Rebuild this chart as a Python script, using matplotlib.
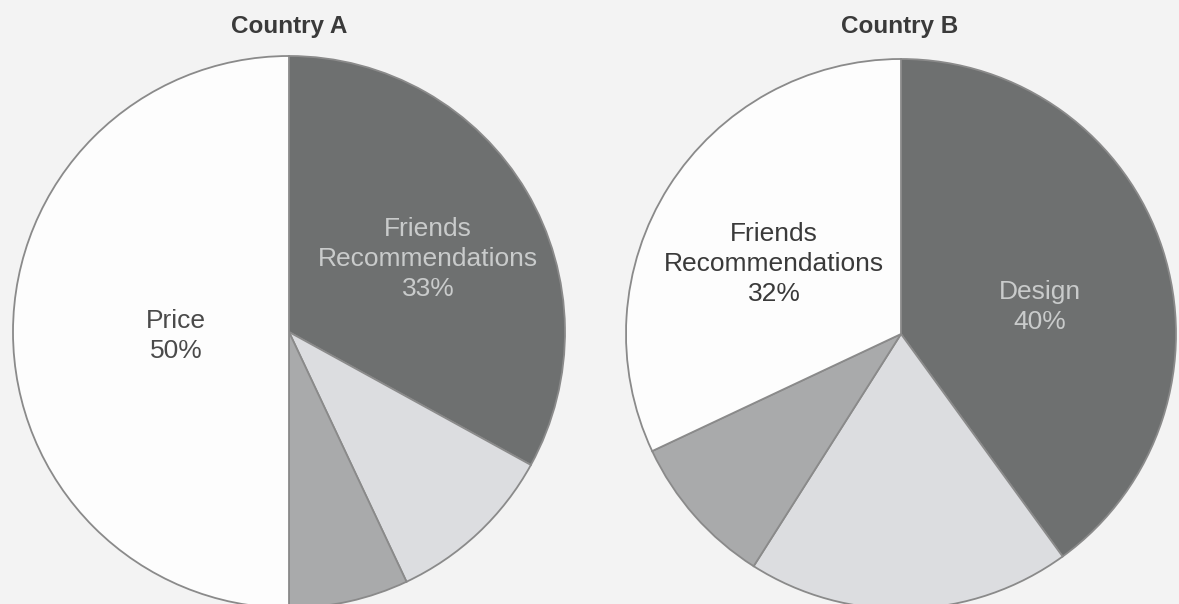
import matplotlib.pyplot as plt

plt.rcParams["font.family"] = ["Liberation Sans", "DejaVu Sans"]

# slice order: clockwise from 12 o'clock
slices_a = ["Friends Recommendations", "Other 1", "Other 2", "Price"]
values_a = [33, 10, 7, 50]
slices_b = ["Design", "Other 1", "Other 2", "Friends Recommendations"]
values_b = [40, 19, 9, 32]
titles = ["Country A", "Country B"]

colors = ["#6e7070", "#dcdde0", "#a9aaab", "#fdfdfd"]

W, H = 1179, 604
fig = plt.figure(figsize=(W / 100, H / 100), dpi=100)
fig.patch.set_facecolor("#f3f3f3")
ax = fig.add_axes([0, 0, 1, 1])

wedge = dict(edgecolor="#8a8a8a", linewidth=1.3)
ax.pie(values_a, colors=colors, startangle=90, counterclock=False,
       center=(289, H - 332), radius=276, wedgeprops=wedge, frame=True)
ax.pie(values_b, colors=colors, startangle=90, counterclock=False,
       center=(901, H - 334), radius=275, wedgeprops=wedge, frame=True)
ax.set_xlim(0, W)
ax.set_ylim(0, H)
ax.set_aspect("equal")
ax.axis("off")

ax.text(289, H - 27, titles[0], ha="center", va="center", fontsize=17.5,
        fontweight="bold", color="#3a3a3a")
ax.text(900, H - 27, titles[1], ha="center", va="center", fontsize=17.5,
        fontweight="bold", color="#3a3a3a")

lab = dict(ha="center", va="center", fontsize=19, linespacing=1.32)
ax.text(176, H - 336, "Price\n%d%%" % values_a[3], color="#4a4a4a", **lab)
ax.text(428, H - 259, "Friends\nRecommendations\n%d%%" % values_a[0],
        color="#c9cbcb", **lab)
ax.text(774, H - 264, "Friends\nRecommendations\n%d%%" % values_b[3],
        color="#3a3a3a", **lab)
ax.text(1040, H - 307, "Design\n%d%%" % values_b[0], color="#c9cbcb", **lab)

fig.savefig("out.png", dpi=100, facecolor=fig.get_facecolor())
